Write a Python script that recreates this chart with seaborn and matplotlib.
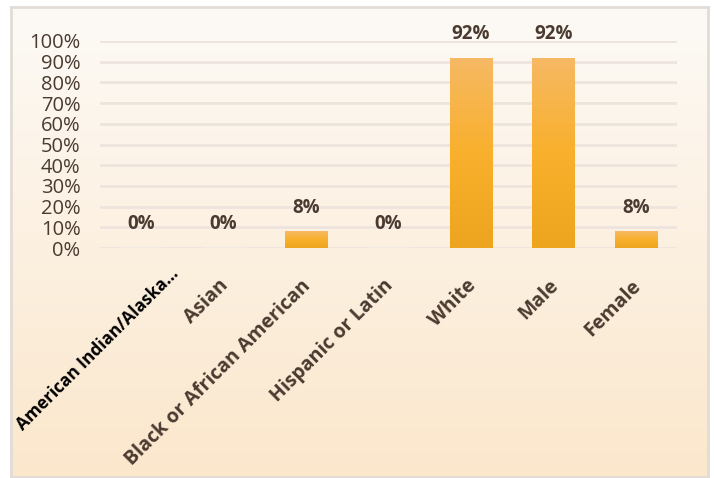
import numpy as np
import pandas as pd
import matplotlib
matplotlib.use("Agg")
import matplotlib.pyplot as plt
import seaborn as sns
from matplotlib.colors import LinearSegmentedColormap
from matplotlib.transforms import ScaledTranslation

# Share of participants by group (percent)
categories = ["American Indian/Alaska…", "Asian", "Black or African American",
              "Hispanic or Latin", "White", "Male", "Female"]
percent = [0, 0, 8, 0, 92, 92, 8]
y_ticks = [0, 10, 20, 30, 40, 50, 60, 70, 80, 90, 100]

TEXT = "#4a3a30"
GRID = "#eee4de"

sns.set_theme(style="white")
plt.rcParams["font.family"] = ["Open Sans", "DejaVu Sans"]

fig = plt.figure(figsize=(7.14, 4.78), dpi=100)
fig.patch.set_facecolor("white")

# Panel background: soft vertical cream gradient with a light border
W, H = 714, 478
px, py, pw, ph = 11, 1, 697, 470
bg = fig.add_axes([px / W, py / H, pw / W, ph / H], zorder=0)
bg_cmap = LinearSegmentedColormap.from_list("bg", ["#fbe7cc", "#fdfaf6"])
bg.imshow(np.linspace(0, 1, 256).reshape(-1, 1), cmap=bg_cmap, aspect="auto",
          origin="lower", extent=[0, 1, 0, 1])
bg.set_xlim(0, 1)
bg.set_ylim(0, 1)
bg.set_xticks([])
bg.set_yticks([])
for s in bg.spines.values():
    s.set_color("#e2dcd6")
    s.set_linewidth(2)

ax = fig.add_axes([100 / W, 1 - 248 / H, 577 / W, (248 - 41) / H], zorder=1)
ax.patch.set_alpha(0)

df = pd.DataFrame({"category": categories, "percent": percent})
sns.barplot(data=df, x="category", y="percent", ax=ax, color="#f8b030",
            width=0.51, saturation=1, zorder=3)

# Orange vertical gradient inside each bar
bar_cmap = LinearSegmentedColormap.from_list(
    "bar", ["#eda41e", "#f9b02c", "#f6b965"])
grad = np.linspace(0, 1, 256).reshape(-1, 1)
for patch in ax.patches:
    h = patch.get_height()
    if h <= 0:
        continue
    x0 = patch.get_x()
    w = patch.get_width()
    im = ax.imshow(grad, cmap=bar_cmap, aspect="auto", origin="lower",
                   extent=[x0, x0 + w, 0, h], zorder=4)
    im.set_clip_path(patch)
    patch.set_alpha(0)

ax.set_xlim(-0.5, len(categories) - 0.5)
ax.set_ylim(0, 100)
ax.set_yticks(y_ticks)
ax.set_yticklabels([f"{t}%" for t in y_ticks], fontsize=14.5, color=TEXT)
ax.tick_params(axis="y", length=0, pad=14)
ax.yaxis.grid(True, color=GRID, linewidth=2, zorder=0)
ax.set_axisbelow(True)
for s in ax.spines.values():
    s.set_visible(False)

ax.set_xlabel("")
ax.set_ylabel("")
ax.tick_params(axis="x", length=0, pad=20)
ax.set_xticks(range(len(categories)))
ax.set_xticklabels(categories, rotation=45, ha="right", rotation_mode="anchor",
                   fontsize=14, fontweight="bold", color=TEXT)
xl = ax.get_xticklabels()
shift = ScaledTranslation(-0.05, 0, fig.dpi_scale_trans)
for lbl in xl[1:]:
    lbl.set_transform(lbl.get_transform() + shift)
xl[0].set_color("black")
xl[0].set_fontsize(12.4)
xl[0].set_transform(xl[0].get_transform() + ScaledTranslation(0.28, 0.11, fig.dpi_scale_trans))

ax.bar_label(ax.containers[0], labels=[f"{v}%" for v in percent], padding=10,
             fontsize=13.5, fontweight="bold", color=TEXT, zorder=5)

fig.savefig("out.png", dpi=100)
